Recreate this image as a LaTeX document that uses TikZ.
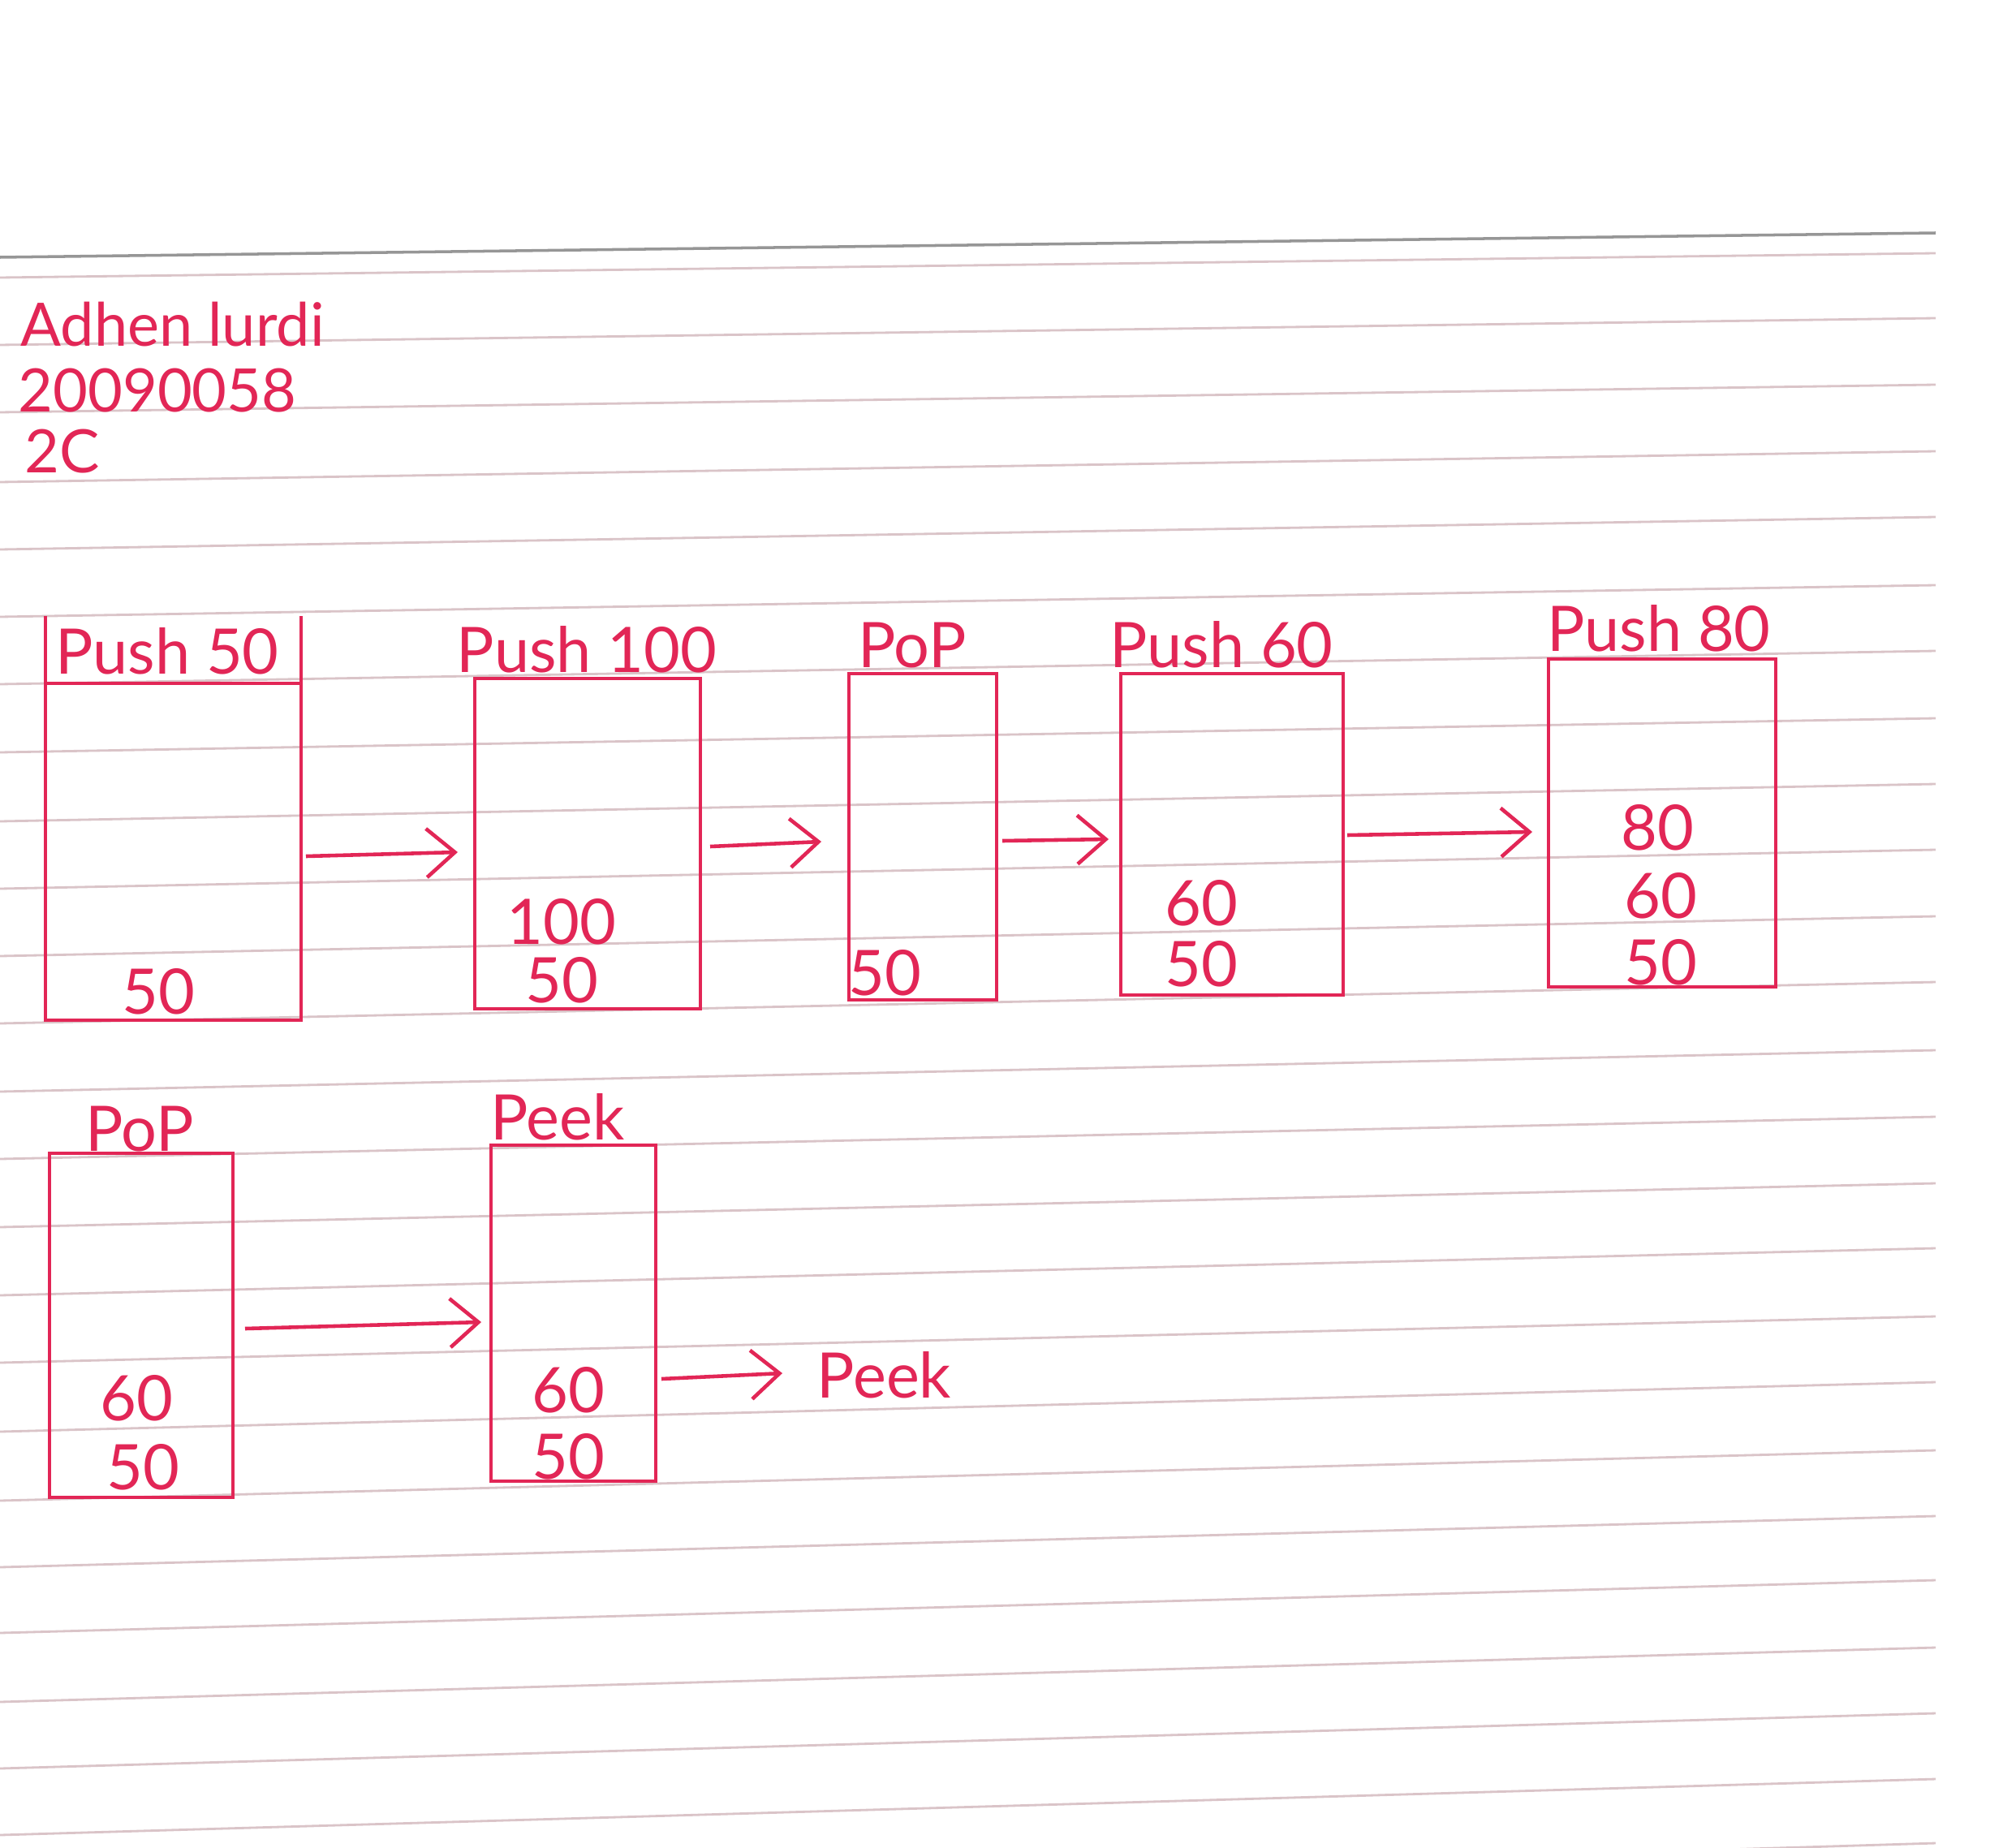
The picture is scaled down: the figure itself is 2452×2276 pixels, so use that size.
\documentclass[tikz,border=0pt]{standalone}
\usepackage{fontspec}
\setmainfont{Lato}
\usetikzlibrary{arrows.meta,calc}
\definecolor{ink}{RGB}{226,38,86}
\definecolor{rulec}{RGB}{218,196,200}
\definecolor{topc}{RGB}{150,150,150}
\begin{document}
\begin{tikzpicture}[x=0.01cm,y=-0.01cm,
  rule/.style={rulec,line width=0.8pt},
  stackbox/.style={draw=ink,line width=1.3pt,inner sep=0pt},
  lbl/.style={text=ink,anchor=base,inner sep=0pt,font=\fontsize{22pt}{26pt}\selectfont},
  val/.style={text=ink,anchor=center,inner sep=0pt,font=\fontsize{22pt}{26pt}\selectfont},
  hdr/.style={text=ink,anchor=base west,inner sep=0pt,font=\fontsize{21pt}{24pt}\selectfont},
  arr/.style={ink,line width=1.3pt,-{Straight Barb[length=0.35cm,width=0.6cm,line width=1.3pt]}}]
\useasboundingbox[fill=white] (0,0) rectangle (2452,2276);
% notebook ruling
\draw[topc,line width=1pt] (0,317) -- (2385,287);
\foreach \l/\r in {342/312,425/392,508/474,594/556,677/637,760/721,843/802,927/885,1012/966,1095/1047,1178/1129,1261/1210,1345/1294,1428/1376,1512/1458,1596/1538,1679/1622,1764/1703,1849/1787,1931/1868,2012/1947,2097/2030,2179/2111,2261/2192,2344/2271}
  \draw[rule] (0,\l) -- (2385,\r);
% header
\node[hdr] (name) at (25,426) {Adhen lurdi};
\node[hdr] (num) at (22,508) {20090058};
\node[hdr] (cls) at (30,582) {2C};
% box 1 : Push 50 (open top, header row)
\node[inner sep=0pt,minimum width=3.13cm,minimum height=4.96cm] (b1) at (213.5,1008) {};
\draw[ink,line width=1.3pt] (b1.north west) -- (b1.south west) -- (b1.south east) -- (b1.north east);
\draw[ink,line width=1.3pt] ($(b1.north west)+(0,83)$) coordinate (h1w) -- ($(b1.north east)+(0,83)$) coordinate (h1e);
\node[lbl] (l1) at (206,830) {Push 50};
\node[val] (v1a) at (195,1222) {50};
% box 2 : Push 100
\node[stackbox,minimum width=2.78cm,minimum height=4.07cm] (b2) at (724,1039.5) {};
\node[lbl] (l2) at (723,828) {Push 100};
\node[val] (v2a) at (692,1136) {100};
\node[val] (v2b) at (692,1208) {50};
% box 3 : PoP
\node[stackbox,minimum width=1.82cm,minimum height=4.02cm] (b3) at (1137,1031) {};
\node[lbl] (l3) at (1124,822) {PoP};
\node[val] (v3a) at (1090,1199) {50};
% box 4 : Push 60
\node[stackbox,minimum width=2.74cm,minimum height=3.96cm] (b4) at (1518,1028) {};
\node[lbl] (l4) at (1505,822) {Push 60};
\node[val] (v4a) at (1480,1113) {60};
\node[val] (v4b) at (1480,1188) {50};
% box 5 : Push 80
\node[stackbox,minimum width=2.80cm,minimum height=4.04cm] (b5) at (2048,1014) {};
\node[lbl] (l5) at (2044,802) {Push 80};
\node[val] (v5a) at (2042,1020) {80};
\node[val] (v5b) at (2046,1104) {60};
\node[val] (v5c) at (2046,1186) {50};
% box 6 : PoP
\node[stackbox,minimum width=2.26cm,minimum height=4.24cm] (b6) at (174,1633) {};
\node[lbl] (l6) at (172,1418) {PoP};
\node[val] (v6a) at (168,1723) {60};
\node[val] (v6b) at (176,1808) {50};
% box 7 : Peek
\node[stackbox,minimum width=2.03cm,minimum height=4.14cm] (b7) at (706.5,1618) {};
\node[lbl] (l7) at (687,1404) {Peek};
\node[val] (v7a) at (700,1713) {60};
\node[val] (v7b) at (700,1795) {50};
% peek result
\node[text=ink,anchor=base west,inner sep=0pt,font=\fontsize{22pt}{26pt}\selectfont] (pk) at (1006,1722) {Peek};
% arrow end points
\coordinate (a1s) at (377,1055); \coordinate (a1e) at (564,1050);
\coordinate (a2s) at (875,1043); \coordinate (a2e) at (1012,1037);
\coordinate (a3s) at (1235,1036); \coordinate (a3e) at (1366,1034);
\coordinate (a4s) at (1660,1029); \coordinate (a4e) at (1888,1025);
\coordinate (a5s) at (302,1637); \coordinate (a5e) at (593,1629);
\coordinate (a6s) at (815,1699); \coordinate (a6e) at (964,1692);
\draw[arr] (a1s) -- (a1e);
\draw[arr] (a2s) -- (a2e);
\draw[arr] (a3s) -- (a3e);
\draw[arr] (a4s) -- (a4e);
\draw[arr] (a5s) -- (a5e);
\draw[arr] (a6s) -- (a6e);
\end{tikzpicture}
\end{document}
